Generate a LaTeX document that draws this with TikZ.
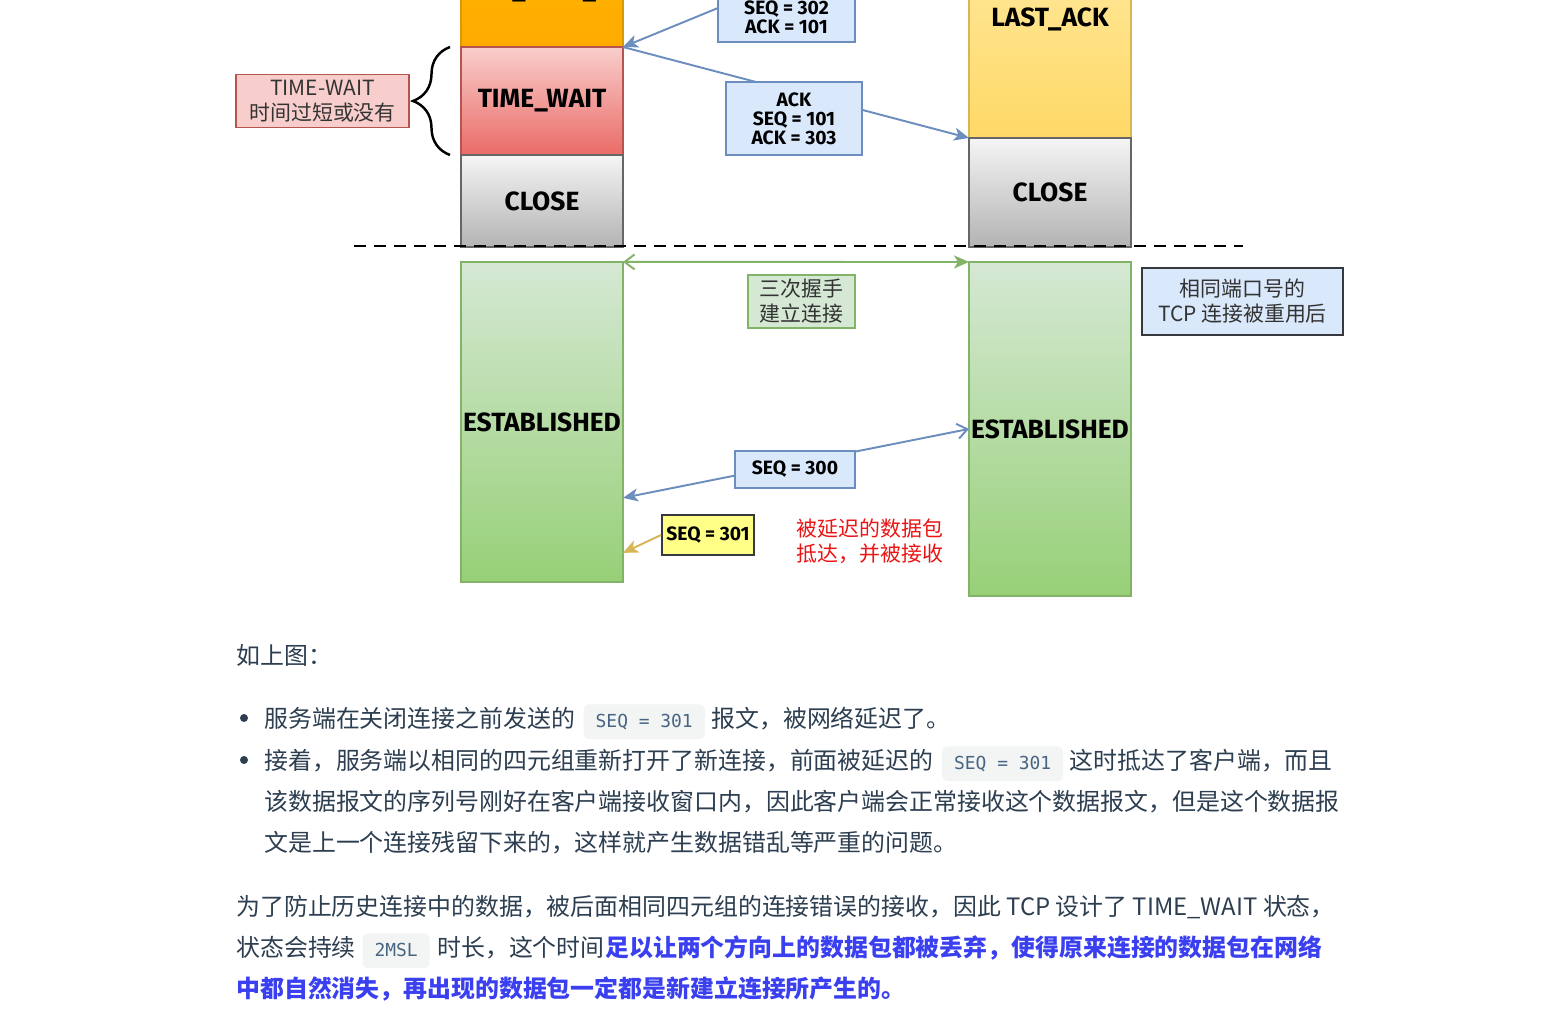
\documentclass[tikz,border=0pt]{standalone}
\usepackage{fontspec}
\setmainfont{Noto Sans CJK SC}
\setmonofont{DejaVu Sans Mono}
\newfontfamily\sketchfont{Fira Sans}
\usetikzlibrary{positioning, calc, arrows.meta, decorations.pathreplacing}

\definecolor{bodycol}{RGB}{44,62,80}
\definecolor{codecol}{RGB}{71,101,130}
\definecolor{codebg}{RGB}{243,244,244}
\definecolor{strongblue}{RGB}{58,64,240}
\definecolor{arrowblue}{RGB}{108,142,191}
\definecolor{seqfill}{RGB}{218,232,252}
\definecolor{estborder}{RGB}{130,179,102}
\definecolor{esttop}{RGB}{213,232,212}
\definecolor{estbot}{RGB}{151,208,119}
\definecolor{twtop}{RGB}{248,206,204}
\definecolor{twbot}{RGB}{234,107,102}
\definecolor{twborder}{RGB}{184,84,80}
\definecolor{closetop}{RGB}{245,245,245}
\definecolor{closebot}{RGB}{179,179,179}
\definecolor{closeborder}{RGB}{102,102,102}
\definecolor{latop}{RGB}{255,236,170}
\definecolor{labot}{RGB}{255,217,102}
\definecolor{laborder}{RGB}{214,182,86}
\definecolor{fwfill}{RGB}{255,170,0}
\definecolor{fwborder}{RGB}{215,155,0}
\definecolor{pktyellow}{RGB}{255,255,136}
\definecolor{darkborder}{RGB}{54,57,61}
\definecolor{delayred}{RGB}{235,20,20}
\definecolor{noteink}{RGB}{51,51,51}

\tikzset{
  statebox/.style={rectangle,draw,line width=1.1pt,minimum width=3.24cm,inner sep=0pt,outer sep=0pt,
    font=\sketchfont\bfseries\fontsize{15}{18}\selectfont},
  fwstate/.style={statebox,draw=fwborder,top color=fwfill!85!yellow,bottom color=fwfill},
  twstate/.style={statebox,draw=twborder,top color=twtop,bottom color=twbot},
  closestate/.style={statebox,draw=closeborder,top color=closetop,bottom color=closebot},
  lastate/.style={statebox,draw=laborder,top color=latop,bottom color=labot},
  eststate/.style={statebox,draw=estborder,top color=esttop,bottom color=estbot},
  pktbox/.style={rectangle,draw=arrowblue,line width=1.1pt,fill=seqfill,align=center,inner sep=0pt,
    font=\sketchfont\bfseries\fontsize{11}{10.8}\selectfont},
  notebox/.style={rectangle,line width=1.1pt,align=center,inner sep=0pt,text=noteink,
    font=\fontsize{11.9}{14.2}\selectfont},
  pktarr/.style={-{Stealth[length=0.3cm,width=0.26cm,inset=0.08cm]},draw=arrowblue,line width=1.1pt},
  hsarr/.style={{Straight Barb[length=0.2cm,width=0.3cm]}-{Stealth[length=0.3cm,width=0.26cm,inset=0.08cm]},
    draw=estborder,line width=1.1pt},
  oldarr/.style={-{Stealth[length=0.3cm,width=0.26cm,inset=0.08cm]},draw=laborder,line width=1.1pt},
  cutline/.style={dash pattern=on 0.24cm off 0.16cm,line width=1.6pt,black},
  bracket/.style={decorate,decoration={brace,amplitude=0.74cm},line width=1.4pt},
  bodytxt/.style={anchor=base west,inner sep=0pt,text=bodycol,font=\fontsize{13.6}{16}\selectfont},
  strongtxt/.style={bodytxt,text=strongblue,font=\bfseries\fontsize{13.6}{16}\selectfont},
  codespan/.style={anchor=base west,fill=codebg,rounded corners=3pt,text=codecol,
    font=\ttfamily\fontsize{10.2}{12}\selectfont,inner xsep=0.24cm,inner ysep=4.9pt,
    text height=8pt,text depth=2pt},
  dot/.style={circle,fill=bodycol,inner sep=0pt,minimum size=0.16cm}
}

\begin{document}
\begin{tikzpicture}[x=0.02cm,y=-0.02cm]
  \path[use as bounding box,fill=white] (0,0) rectangle (1559,1030);

  %% client side
  \node[fwstate,anchor=south west,minimum height=2.24cm] (fw) at (461,47) {FIN\_WAIT\_2};
  \node[twstate,below=0pt of fw,minimum height=2.16cm] (tw) {TIME\_WAIT};
  \node[closestate,below=0pt of tw,minimum height=1.84cm] (cl1) {CLOSE};
  \node[eststate,below=0.3cm of cl1,minimum height=6.4cm] (est1) {ESTABLISHED};

  %% server side
  \node[lastate,anchor=south west,minimum height=4.76cm] (la) at (969,138) {LAST\_ACK};
  \node[closestate,below=0pt of la,minimum height=2.18cm] (cl2) {CLOSE};
  \node[eststate,below=0.3cm of cl2,minimum height=6.68cm] (est2) {ESTABLISHED};

  %% old connection ends here
  \coordinate (cutL) at (354,246);
  \coordinate (cutR) at (1243,246);
  \draw[cutline] (cutL) -- (cutR);

  %% TIME-WAIT note
  \draw[bracket] ($(tw.south west)+(-11,0)$) -- ($(tw.north west)+(-11,0)$);
  \coordinate (bracetip) at ($(tw.west)+(-48,0)$);
  \node[notebox,draw=twborder,fill=twtop,minimum width=3.46cm,minimum height=1.06cm,
    left=0.06cm of bracetip] (twnote) {TIME-WAIT\\时间过短或没有};

  %% segments
  \coordinate (offtop) at (969,-95);
  \draw[pktarr] (offtop) -- (fw.south east);
  \draw[pktarr] (tw.north east) -- (la.south west);
  \draw[hsarr] (est1.north east) -- (est2.north west);
  \draw[pktarr,{Stealth[length=0.3cm,width=0.26cm,inset=0.08cm]}-{Straight Barb[length=0.2cm,width=0.3cm]}]
    ($(est1.south east)+(0,-84)$) -- (est2.west);

  \node[pktbox,minimum width=2.74cm,minimum height=1.0cm] (seq302) at (786.5,17) {SEQ = 302\\ACK = 101};
  \node[pktbox,minimum width=2.72cm,minimum height=1.46cm] (ack303) at (794,118.5) {ACK\\SEQ = 101\\ACK = 303};
  \node[pktbox,minimum width=2.4cm,minimum height=0.74cm] (seq300) at (795,469.5) {SEQ = 300};
  \node[pktbox,draw=darkborder,fill=pktyellow,minimum width=1.84cm,minimum height=0.8cm] (seq301)
    at (708,535) {SEQ = 301};
  \draw[oldarr] (seq301.west) -- ($(est1.south east)+(0,-29)$);

  \node[notebox,draw=estborder,fill=esttop,minimum width=2.14cm,minimum height=1.06cm] (handshake)
    at (801.5,301.5) {三次握手\\建立连接};
  \node[notebox,draw=darkborder,fill=seqfill,line width=1.6pt,minimum width=4.02cm,minimum height=1.34cm]
    (reuse) at (1242.5,301.5) {相同端口号的\\TCP 连接被重用后};
  \node[notebox,text=delayred,align=left,right=0.82cm of seq301,yshift=-0.12cm] (delaynote)
    {被延迟的数据包\\抵达，并被接收};

  %% text under the figure
  \node[bodytxt] (intro) at (236,664) {如上图：};

  \node[dot] (b1) at (244,718) {};
  \node[bodytxt] (l1a) at (264,727) {服务端在关闭连接之前发送的};
  \node[codespan,right=0.16cm of l1a.base east,anchor=base west] (c1) {SEQ = 301};
  \node[bodytxt,right=0.12cm of c1.base east,anchor=base west] (l1b) {报文，被网络延迟了。};

  \node[dot] (b2) at (244,760) {};
  \node[bodytxt] (l2a) at (264,769) {接着，服务端以相同的四元组重新打开了新连接，前面被延迟的};
  \node[codespan,right=0.16cm of l2a.base east,anchor=base west] (c2) {SEQ = 301};
  \node[bodytxt,right=0.12cm of c2.base east,anchor=base west] (l2b) {这时抵达了客户端，而且};
  \node[bodytxt] (l3) at (264,810) {该数据报文的序列号刚好在客户端接收窗口内，因此客户端会正常接收这个数据报文，但是这个数据报};
  \node[bodytxt] (l4) at (264,851) {文是上一个连接残留下来的，这样就产生数据错乱等严重的问题。};

  \node[bodytxt] (p1) at (236,915) {为了防止历史连接中的数据，被后面相同四元组的连接错误的接收，因此 TCP 设计了 TIME\_WAIT 状态，};
  \node[bodytxt] (p2a) at (236,956) {状态会持续};
  \node[codespan,right=0.12cm of p2a.base east,anchor=base west] (c3) {2MSL};
  \node[bodytxt,right=0.14cm of c3.base east,anchor=base west] (p2b) {时长，这个时间};
  \node[strongtxt,right=0pt of p2b.base east,anchor=base west] (p2c) {足以让两个方向上的数据包都被丢弃，使得原来连接的数据包在网络};
  \node[strongtxt] (p3) at (236,997) {中都自然消失，再出现的数据包一定都是新建立连接所产生的。};
\end{tikzpicture}
\end{document}
